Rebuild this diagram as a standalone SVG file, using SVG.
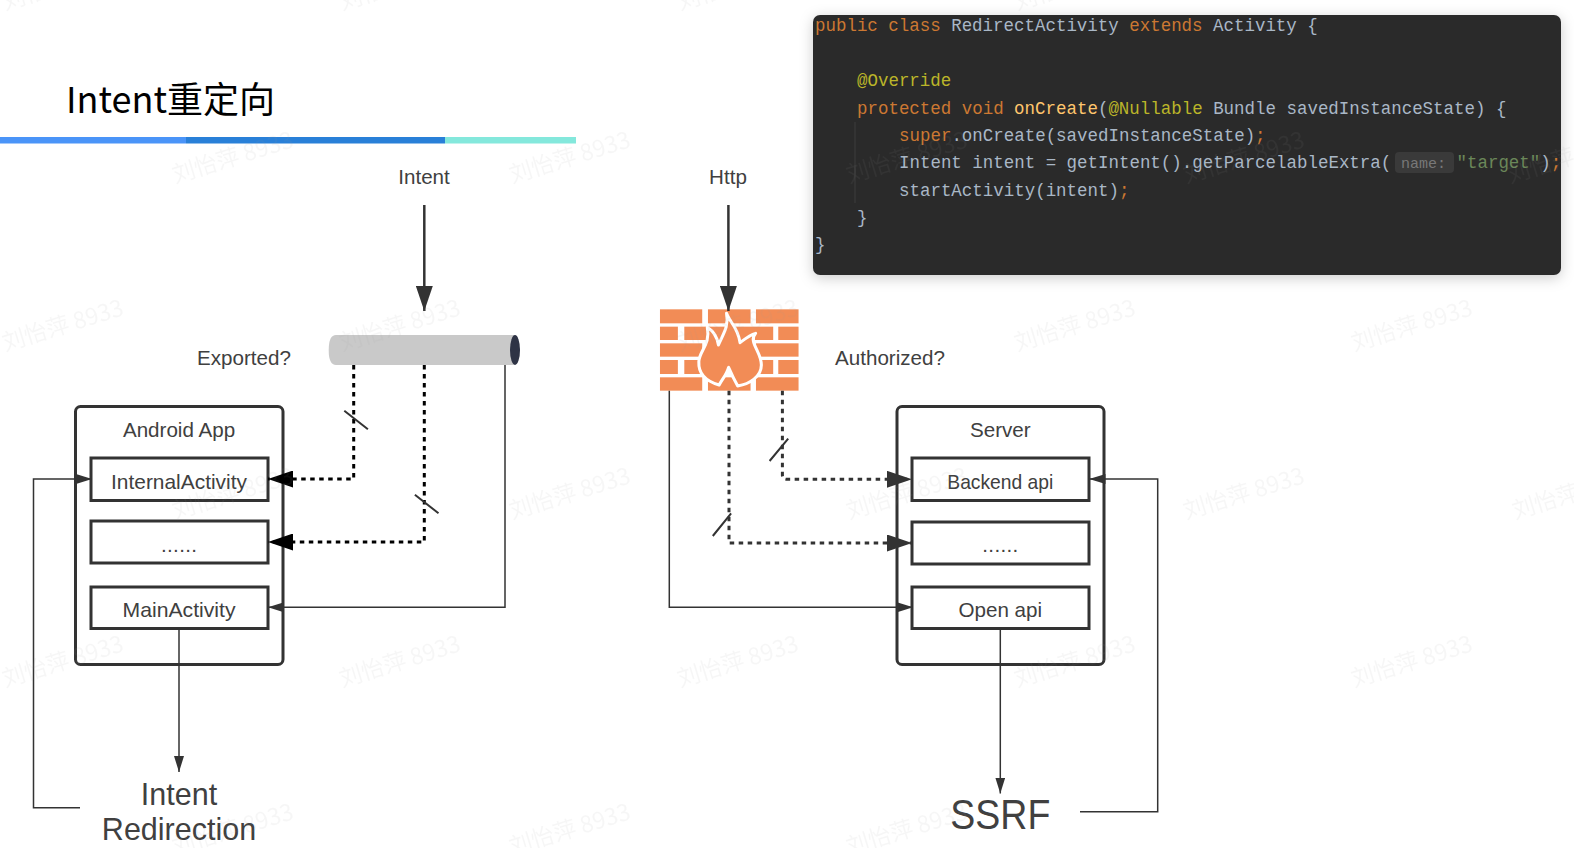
<svg xmlns="http://www.w3.org/2000/svg" width="1574" height="848" viewBox="0 0 1574 848">
<style>
text{font-family:"Liberation Sans","Noto Sans CJK SC",sans-serif;fill:#404040}
.l{font-size:20.6px;text-anchor:middle}
.outer{fill:#fff;stroke:#333;stroke-width:3}
.inner{fill:#fff;stroke:#333;stroke-width:3}
.solid{fill:none;stroke:#333;stroke-width:1.5}
.dash{fill:none;stroke:#000;stroke-width:3;stroke-dasharray:4.5 4.5}
.dash2{fill:none;stroke:#333;stroke-width:3;stroke-dasharray:4.5 4.5}
.tick{stroke:#333;stroke-width:2;fill:none}
.brick{fill:#f28c56}
.code{font-family:"Liberation Mono",monospace;font-size:17.47px;fill:#a9b7c6}
.k{fill:#cc7832}.a{fill:#bbb529}.f{fill:#ffc66d}.s{fill:#6a8759}
.wm{font-family:"Noto Sans CJK SC",sans-serif;font-size:23px;fill:#999;opacity:.08;text-anchor:middle}
</style>
<defs>
<marker id="bigK" markerUnits="userSpaceOnUse" markerWidth="25" markerHeight="17" refX="25" refY="8.5" orient="auto"><path d="M0 0L25 8.5L0 17z" fill="#000"/></marker>
<marker id="bigD" markerUnits="userSpaceOnUse" markerWidth="25" markerHeight="17" refX="25" refY="8.5" orient="auto"><path d="M0 0L25 8.5L0 17z" fill="#333"/></marker>
<marker id="small" markerUnits="userSpaceOnUse" markerWidth="16" markerHeight="10" refX="16" refY="5" orient="auto"><path d="M0 0L16 5L0 10z" fill="#333"/></marker>
<filter id="sh" x="-5%" y="-15%" width="110%" height="130%"><feDropShadow dx="0" dy="3" stdDeviation="7" flood-color="#000" flood-opacity=".2"/></filter>
</defs>
<rect width="1574" height="848" fill="#fff"/>

<g id="title">
<text x="66" y="113" font-size="36" style="font-family:'Noto Sans CJK SC',sans-serif;fill:#000">Intent重定向</text>
<rect x="0" y="137" width="186" height="6.5" fill="#4a94f8"/>
<rect x="186" y="137" width="259" height="6.5" fill="#2980d8"/>
<rect x="445" y="137" width="131" height="6.5" fill="#84e8dc"/>
</g>

<g id="code-panel">
<rect x="813" y="15" width="748" height="260" rx="7" fill="#2b2b2b" filter="url(#sh)"/>
<path d="M855 122V203" stroke="#3c3c3c" stroke-width="1" fill="none"/>
<rect x="1395" y="152" width="59" height="21" rx="4" fill="#3a3a3a"/>
<text class="code" x="815" y="30.7"><tspan class="k">public class </tspan>RedirectActivity <tspan class="k">extends </tspan>Activity {</text>
<text class="code a" x="857" y="86">@Override</text>
<text class="code" x="857" y="113.5"><tspan class="k">protected void </tspan><tspan class="f">onCreate</tspan>(<tspan class="a">@Nullable </tspan>Bundle savedInstanceState) {</text>
<text class="code" x="899" y="140.7"><tspan class="k">super</tspan>.onCreate(savedInstanceState)<tspan class="k">;</tspan></text>
<text class="code" x="899" y="168.3">Intent intent = getIntent().getParcelableExtra(</text>
<text class="code" x="1401" y="167.5" style="font-size:15px;fill:#787878">name:</text>
<text class="code" x="1456.5" y="168.3"><tspan class="s">"target"</tspan>)<tspan class="k">;</tspan></text>
<text class="code" x="899" y="195.7">startActivity(intent)<tspan class="k">;</tspan></text>
<text class="code" x="857" y="223">}</text>
<text class="code" x="815" y="250">}</text>
</g>

<g id="intent-label"><text class="l" x="424" y="183.5">Intent</text></g>
<g id="http-label"><text class="l" x="728" y="183.5">Http</text></g>
<g id="exported-label"><text class="l" x="244" y="365">Exported?</text></g>
<g id="authorized-label"><text class="l" x="890" y="365">Authorized?</text></g>

<g id="android-app">
<rect class="outer" x="75.5" y="406.5" width="207.5" height="258" rx="5"/>
<text class="l" x="179" y="436.7">Android App</text>
</g>
<g id="internal-activity"><rect class="inner" x="91" y="458" width="177" height="42.5"/><text class="l" x="179" y="488.7" textLength="136" lengthAdjust="spacingAndGlyphs">InternalActivity</text></g>
<g id="android-dots"><rect class="inner" x="91" y="521" width="177" height="42"/><text class="l" x="179" y="551.7" textLength="36">......</text></g>
<g id="main-activity"><rect class="inner" x="91" y="587" width="177" height="41.5"/><text class="l" x="179" y="616.7" textLength="113" lengthAdjust="spacingAndGlyphs">MainActivity</text></g>

<g id="server">
<rect class="outer" x="897" y="406.5" width="207" height="258" rx="5"/>
<text class="l" x="1000.3" y="436.7">Server</text>
</g>
<g id="backend-api"><rect class="inner" x="912" y="458" width="177" height="42.5"/><text class="l" x="1000.3" y="488.7" textLength="106" lengthAdjust="spacingAndGlyphs">Backend api</text></g>
<g id="server-dots"><rect class="inner" x="912" y="522" width="177" height="42"/><text class="l" x="1000.3" y="552" textLength="36">......</text></g>
<g id="open-api"><rect class="inner" x="912" y="587" width="177" height="41.5"/><text class="l" x="1000.3" y="616.7">Open api</text></g>

<g id="intent-redirection"><text x="179" y="804.5" font-size="30.5" text-anchor="middle">Intent</text><text x="179" y="839.5" font-size="30.5" text-anchor="middle">Redirection</text></g>
<g id="ssrf"><text x="1000.3" y="828.5" font-size="42" text-anchor="middle" textLength="100" lengthAdjust="spacingAndGlyphs">SSRF</text></g>

<g id="pipe">
<path d="M336 335H514.5V365H336Q328.7 365 328.7 350Q328.7 335 336 335z" fill="#c9c9c9"/>
<ellipse cx="515" cy="350" rx="5" ry="15" fill="#2e3345"/>
</g>

<g id="firewall" transform="translate(300 280) scale(.338 .3333)">
<rect class="brick" x="1065" y="88" width="125" height="42"/><rect class="brick" x="1207" y="88" width="126" height="42"/><rect class="brick" x="1349" y="88" width="126" height="42"/>
<rect class="brick" x="1065" y="140" width="53" height="40"/><rect class="brick" x="1137" y="140" width="125" height="40"/><rect class="brick" x="1278" y="140" width="122" height="40"/><rect class="brick" x="1415" y="140" width="60" height="40"/>
<rect class="brick" x="1065" y="190" width="125" height="40"/><rect class="brick" x="1207" y="190" width="126" height="40"/><rect class="brick" x="1349" y="190" width="126" height="40"/>
<rect class="brick" x="1065" y="240" width="53" height="42"/><rect class="brick" x="1137" y="240" width="125" height="42"/><rect class="brick" x="1278" y="240" width="122" height="42"/><rect class="brick" x="1415" y="240" width="60" height="42"/>
<rect class="brick" x="1065" y="292" width="125" height="40"/><rect class="brick" x="1207" y="292" width="126" height="40"/><rect class="brick" x="1349" y="292" width="126" height="40"/>
<path class="brick" stroke="#fff" stroke-width="9" stroke-linejoin="round" d="M1262 100C1270 125 1295 140 1302 188C1315 178 1330 165 1348 160C1325 185 1365 215 1365 255C1365 290 1330 312 1295 318C1285 300 1280 290 1268 262C1262 285 1250 295 1240 315C1205 305 1178 285 1180 245C1182 210 1215 195 1205 142C1225 155 1235 175 1238 195C1250 165 1270 140 1262 100z"/>
</g>

<g id="connectors">
<path class="solid" style="stroke-width:2.5" d="M424.3 205V311" marker-end="url(#bigD)"/>
<path class="solid" style="stroke-width:2.5" d="M728.4 205V311" marker-end="url(#bigD)"/>
<path class="dash" d="M353.7 365V479H268" marker-end="url(#bigK)"/>
<path class="dash" d="M424.3 365V542H268" marker-end="url(#bigK)"/>
<path class="solid" d="M505 365V607.3H268" marker-end="url(#small)"/>
<path class="solid" d="M179 629V772" marker-end="url(#small)"/>
<path class="solid" d="M80 807.7H33.5V479H92" marker-end="url(#small)"/>
<path class="tick" d="M344.3 410.7L367.9 429.3M414.9 494.7L438.5 513.3M788.2 438.7L769.6 461M731.1 513.3L712.8 536"/>
<path class="solid" d="M669.3 390.7V607.3H913" marker-end="url(#small)"/>
<path class="dash2" d="M729 390.7V543H912" marker-end="url(#bigD)"/>
<path class="dash2" d="M782.4 390.7V475Q782.4 479.3 787 479.3H912" marker-end="url(#bigD)"/>
<path class="solid" d="M1000.3 629V793.5" marker-end="url(#small)"/>
<path class="solid" d="M1080 811.7H1157.7V479H1089.5" marker-end="url(#small)"/>
</g>

<g id="watermarks">
<text class="wm" transform="translate(65 -8) rotate(-17)">刘怡萍 8933</text>
<text class="wm" transform="translate(402 -8) rotate(-17)">刘怡萍 8933</text>
<text class="wm" transform="translate(740 -8) rotate(-17)">刘怡萍 8933</text>
<text class="wm" transform="translate(1077 -8) rotate(-17)">刘怡萍 8933</text>
<text class="wm" transform="translate(235 165) rotate(-17)">刘怡萍 8933</text>
<text class="wm" transform="translate(572 165) rotate(-17)">刘怡萍 8933</text>
<text class="wm" transform="translate(909 165) rotate(-17)">刘怡萍 8933</text>
<text class="wm" transform="translate(1246 165) rotate(-17)">刘怡萍 8933</text>
<text class="wm" transform="translate(1570 165) rotate(-17)">刘怡萍 8933</text>
<text class="wm" transform="translate(65 333) rotate(-17)">刘怡萍 8933</text>
<text class="wm" transform="translate(402 333) rotate(-17)">刘怡萍 8933</text>
<text class="wm" transform="translate(740 333) rotate(-17)">刘怡萍 8933</text>
<text class="wm" transform="translate(1077 333) rotate(-17)">刘怡萍 8933</text>
<text class="wm" transform="translate(1414 333) rotate(-17)">刘怡萍 8933</text>
<text class="wm" transform="translate(235 501) rotate(-17)">刘怡萍 8933</text>
<text class="wm" transform="translate(572 501) rotate(-17)">刘怡萍 8933</text>
<text class="wm" transform="translate(909 501) rotate(-17)">刘怡萍 8933</text>
<text class="wm" transform="translate(1246 501) rotate(-17)">刘怡萍 8933</text>
<text class="wm" transform="translate(1575 501) rotate(-17)">刘怡萍 8933</text>
<text class="wm" transform="translate(65 669) rotate(-17)">刘怡萍 8933</text>
<text class="wm" transform="translate(402 669) rotate(-17)">刘怡萍 8933</text>
<text class="wm" transform="translate(740 669) rotate(-17)">刘怡萍 8933</text>
<text class="wm" transform="translate(1077 669) rotate(-17)">刘怡萍 8933</text>
<text class="wm" transform="translate(1414 669) rotate(-17)">刘怡萍 8933</text>
<text class="wm" transform="translate(235 837) rotate(-17)">刘怡萍 8933</text>
<text class="wm" transform="translate(572 837) rotate(-17)">刘怡萍 8933</text>
<text class="wm" transform="translate(909 837) rotate(-17)">刘怡萍 8933</text>
</g>
</svg>
